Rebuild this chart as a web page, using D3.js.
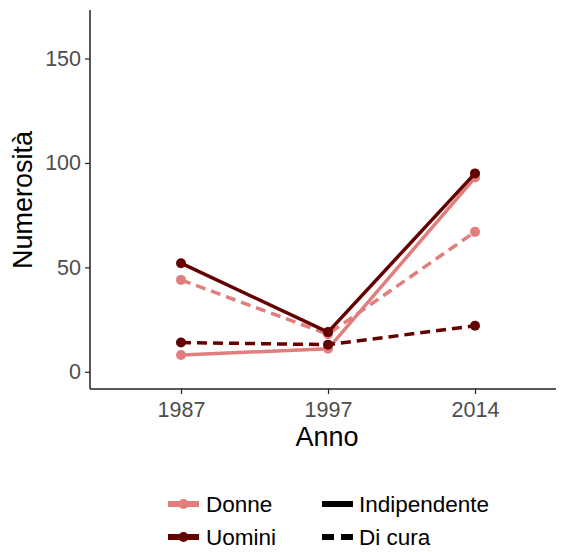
<!DOCTYPE html>
<html>
<head>
<meta charset="utf-8">
<script src="https://cdn.jsdelivr.net/npm/d3@7"></script>
<style>
  body { margin: 0; background: #fff; }
  svg { display: block; font-family: "Liberation Sans", Arial, sans-serif; }
</style>
</head>
<body>
<svg width="561" height="552"></svg>
<script>
// data
var anni = ["1987", "1997", "2014"];
var donneIndipendente = [8, 11, 93];
var donneCura = [44, 18, 67];
var uominiIndipendente = [52, 19, 95];
var uominiCura = [14, 13, 22];
var yTicks = [0, 50, 100, 150];

var rosa = "#e27d7d";
var scuro = "#650000";

var panel = {left: 90, right: 556, top: 10, bottom: 389};

var svg = d3.select("svg");

var x = d3.scalePoint()
    .domain(anni)
    .range([181, 475]);
var y = d3.scaleLinear()
    .domain([-8.25, 173.25])
    .range([panel.bottom, panel.top]);

var serie = [
    {nome: "Donne", tipo: "Indipendente", valori: donneIndipendente, col: rosa},
    {nome: "Donne", tipo: "Di cura", valori: donneCura, col: rosa},
    {nome: "Uomini", tipo: "Indipendente", valori: uominiIndipendente, col: scuro},
    {nome: "Uomini", tipo: "Di cura", valori: uominiCura, col: scuro}
];

var line = d3.line()
    .x(function (d, i) { return x(anni[i]); })
    .y(function (d) { return y(d); });

serie.forEach(function (s) {
    svg.append("path")
        .attr("d", line(s.valori))
        .attr("fill", "none")
        .attr("stroke", s.col)
        .attr("stroke-width", 3.5)
        .attr("stroke-dasharray", s.tipo == "Di cura" ? "10,6" : null);
    svg.selectAll(null)
        .data(s.valori)
        .enter().append("circle")
        .attr("cx", function (d, i) { return x(anni[i]); })
        .attr("cy", function (d) { return y(d); })
        .attr("r", 5)
        .attr("fill", s.col);
});

// axes
var xAxis = d3.axisBottom(x).tickSize(5).tickPadding(4);
var yAxis = d3.axisLeft(y).tickValues(yTicks).tickSize(5).tickPadding(4);

var gx = svg.append("g")
    .attr("transform", "translate(0," + panel.bottom + ")")
    .call(xAxis);
gx.select(".domain").remove();
gx.append("line")
    .attr("x1", panel.left).attr("x2", panel.right)
    .attr("stroke", "#222").attr("stroke-width", 1.5);

var gy = svg.append("g")
    .attr("transform", "translate(" + panel.left + ",0)")
    .call(yAxis);
gy.select(".domain").remove();
gy.append("line")
    .attr("y1", panel.top).attr("y2", panel.bottom)
    .attr("stroke", "#222").attr("stroke-width", 1.5);

svg.selectAll(".tick line").attr("stroke", "#222").attr("stroke-width", 1.2);
svg.selectAll(".tick text")
    .attr("fill", "#4d4d4d")
    .style("font-size", "21.5px")
    .style("font-family", "Liberation Sans, Arial, sans-serif");
gx.selectAll(".tick text").attr("dy", "0.9em");

svg.append("text")
    .attr("x", 327).attr("y", 446)
    .attr("text-anchor", "middle")
    .style("font-size", "27px")
    .text("Anno");

svg.append("text")
    .attr("transform", "translate(32,200) rotate(-90)")
    .attr("text-anchor", "middle")
    .style("font-size", "27px")
    .text("Numerosità");

// legend
var legNomi = [{t: "Donne", col: rosa}, {t: "Uomini", col: scuro}];
var legTipi = [{t: "Indipendente", dash: null}, {t: "Di cura", dash: "12,7"}];

legNomi.forEach(function (d, i) {
    var yy = 504 + i * 33;
    svg.append("line")
        .attr("x1", 168).attr("x2", 199).attr("y1", yy).attr("y2", yy)
        .attr("stroke", d.col).attr("stroke-width", 6);
    svg.append("circle")
        .attr("cx", 183.5).attr("cy", yy).attr("r", 5).attr("fill", d.col);
    svg.append("text")
        .attr("x", 206).attr("y", yy + 8)
        .style("font-size", "22.5px")
        .text(d.t);
});

legTipi.forEach(function (d, i) {
    var yy = 504 + i * 33;
    svg.append("line")
        .attr("x1", 322).attr("x2", 353).attr("y1", yy).attr("y2", yy)
        .attr("stroke", "#000").attr("stroke-width", 6)
        .attr("stroke-dasharray", d.dash);
    svg.append("text")
        .attr("x", 359).attr("y", yy + 8)
        .style("font-size", "22.5px")
        .text(d.t);
});
</script>
</body>
</html>
